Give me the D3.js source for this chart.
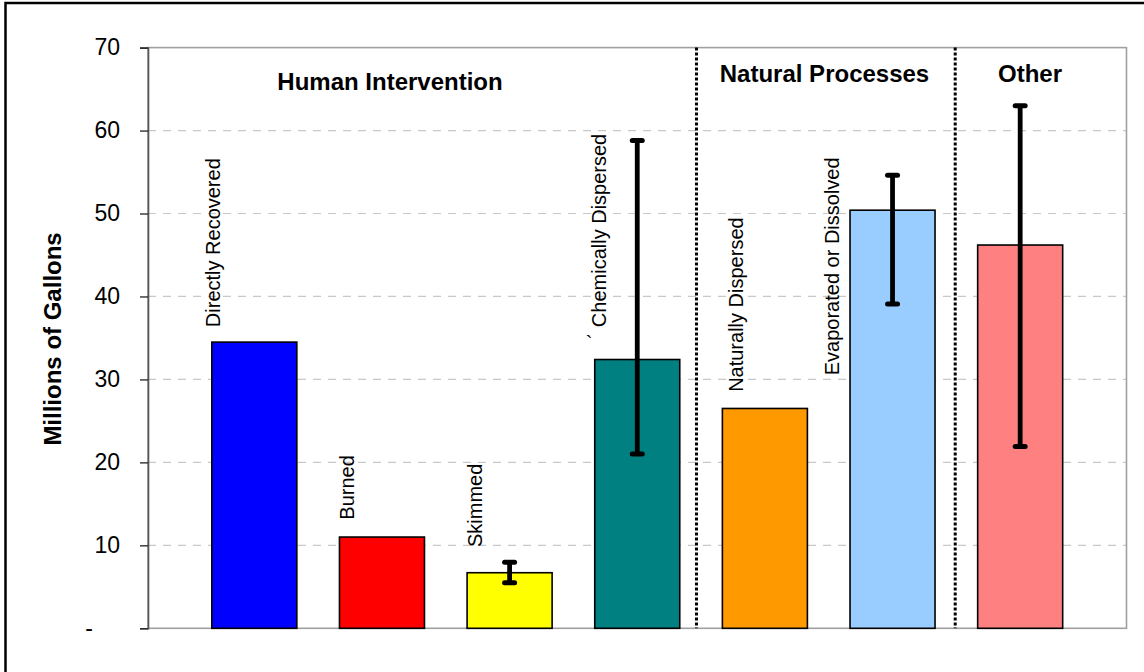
<!DOCTYPE html>
<html>
<head>
<meta charset="utf-8">
<script src="https://cdn.jsdelivr.net/npm/d3@7"></script>
<style>
  body { margin: 0; background: #fff; }
  svg { display: block; font-family: Arial, "Liberation Sans", sans-serif; }
</style>
</head>
<body>
<svg width="1144" height="672"></svg>
<script>
// data (millions of gallons)
const categories = ['Directly Recovered', 'Burned', 'Skimmed', 'Chemically Dispersed',
  'Naturally Dispersed', 'Evaporated or Dissolved', 'Other']
const values = [34.5, 11.0, 6.7, 32.4, 26.5, 50.4, 46.2]
const errLow = [null, null, 5.5, 21.0, null, 39.1, 21.9]
const errHigh = [null, null, 7.95, 58.8, null, 54.6, 63.0]
const barColors = ['#0000ff', '#ff0000', '#ffff00', '#008080', '#ff9900', '#99ccff', '#ff8080']
const barLabels = ['Directly Recovered', 'Burned', 'Skimmed', 'Chemically Dispersed',
  'Naturally Dispersed', 'Evaporated or Dissolved', '']
const yTicks = [0, 10, 20, 30, 40, 50, 60, 70]
const sections = ['Human Intervention', 'Natural Processes', 'Other']

// layout: label nudges (px from bar left, value where label starts), header/divider spots in category steps
const labelDx = [8.5, 14.5, 15, 11.5, 20.5, -11.5, 0]
const labelAt = [36.3, 13.1, 9.8, 36.3, 28.5, 30.5, 0]
const sectionAt = [1.896, 5.30, 6.91]
const sectionDy = [42, 34, 34]
const dividerAt = [4.297, 6.324]

const svg = d3.select('svg')
const margin = {top: 47.6, left: 148, right: 1126.5, bottom: 628.3}

// outer frame
svg.append('rect')
  .attr('x', 5.5).attr('y', 3).attr('width', 1160).attr('height', 700)
  .attr('fill', 'none').attr('stroke', '#000').attr('stroke-width', 2.5)

const x = d3.scaleBand()
  .domain(categories)
  .range([margin.left, margin.right])
  .paddingInner(0.334)
  .paddingOuter(0.5)

const y = d3.scaleLinear()
  .domain([0, 70])
  .range([margin.bottom, margin.top])

const stepX = t => x.range()[0] + t * x.step()

// gridlines
svg.append('g')
  .selectAll('line')
  .data(yTicks.filter(d => d > 0 && d < 70))
  .enter().append('line')
    .attr('x1', margin.left).attr('x2', margin.right)
    .attr('y1', d => y(d)).attr('y2', d => y(d))
    .attr('stroke', '#c8c8c8').attr('stroke-width', 1.2)
    .attr('stroke-dasharray', '8,7')

// plot border
svg.append('rect')
  .attr('x', margin.left).attr('y', margin.top)
  .attr('width', margin.right - margin.left).attr('height', margin.bottom - margin.top)
  .attr('fill', 'none').attr('stroke', '#a0a0a0').attr('stroke-width', 1.6)

// dotted dividers
svg.append('g')
  .selectAll('line')
  .data(dividerAt)
  .enter().append('line')
    .attr('x1', d => stepX(d)).attr('x2', d => stepX(d))
    .attr('y1', margin.top).attr('y2', margin.bottom)
    .attr('stroke', '#000').attr('stroke-width', 3)
    .attr('stroke-dasharray', '3,2')

// y axis
const yAxis = svg.append('g')
  .attr('transform', 'translate(' + margin.left + ',0)')
  .call(d3.axisLeft(y).tickValues(yTicks).tickSize(8).tickPadding(20)
    .tickFormat(d => d === 0 ? '-' : d))
yAxis.select('.domain').attr('stroke', '#555').attr('stroke-width', 1.6)
yAxis.selectAll('.tick line').attr('stroke', '#222').attr('stroke-width', 1.3)
yAxis.selectAll('.tick text')
  .attr('font-size', 23).attr('font-family', 'Arial, "Liberation Sans", sans-serif')
  .attr('fill', '#000')
  .attr('dx', d => d === 0 ? -27 : 0)

svg.append('text')
  .attr('transform', 'translate(61,' + ((margin.top + margin.bottom) / 2 + 1) + ') rotate(-90)')
  .attr('text-anchor', 'middle')
  .attr('font-weight', 'bold').attr('font-size', 24)
  .text('Millions of Gallons')

// bars
svg.append('g')
  .selectAll('rect')
  .data(categories)
  .enter().append('rect')
    .attr('x', d => x(d))
    .attr('width', x.bandwidth())
    .attr('y', (d, i) => y(values[i]))
    .attr('height', (d, i) => y(0) - y(values[i]))
    .attr('fill', (d, i) => barColors[i])
    .attr('stroke', '#000').attr('stroke-width', 1.6)

// error bars
const errIdx = categories.map((d, i) => i).filter(i => errLow[i] != null)
const eb = svg.append('g')
  .attr('stroke', '#000').attr('stroke-linecap', 'round')
eb.selectAll('.stem')
  .data(errIdx)
  .enter().append('line')
    .attr('x1', i => x(categories[i]) + x.bandwidth() / 2)
    .attr('x2', i => x(categories[i]) + x.bandwidth() / 2)
    .attr('y1', i => y(errLow[i])).attr('y2', i => y(errHigh[i]))
    .attr('stroke-width', 4.8).attr('stroke-linecap', 'butt')
eb.selectAll('.cap')
  .data(errIdx.flatMap(i => [[i, errLow[i]], [i, errHigh[i]]]))
  .enter().append('line')
    .attr('x1', d => x(categories[d[0]]) + x.bandwidth() / 2 - 5)
    .attr('x2', d => x(categories[d[0]]) + x.bandwidth() / 2 + 5)
    .attr('y1', d => y(d[1])).attr('y2', d => y(d[1]))
    .attr('stroke-width', 5)

// rotated bar labels
svg.append('g')
  .selectAll('text')
  .data(categories.map((d, i) => i).filter(i => barLabels[i]))
  .enter().append('text')
    .attr('transform', i => 'translate(' + (x(categories[i]) + labelDx[i]) + ',' + y(labelAt[i]) + ') rotate(-90)')
    .attr('font-size', 20)
    .text(i => barLabels[i])

// stray mark beside the chemically dispersed label
svg.append('text')
  .attr('x', x(categories[3]) - 9).attr('y', y(labelAt[3]) + 23)
  .attr('font-size', 20)
  .text('`')

// section headers
svg.append('g')
  .selectAll('text')
  .data(sections)
  .enter().append('text')
    .attr('x', (d, i) => stepX(sectionAt[i]))
    .attr('y', (d, i) => margin.top + sectionDy[i])
    .attr('text-anchor', 'middle')
    .attr('font-weight', 'bold').attr('font-size', 24)
    .text(d => d)
</script>
</body>
</html>
